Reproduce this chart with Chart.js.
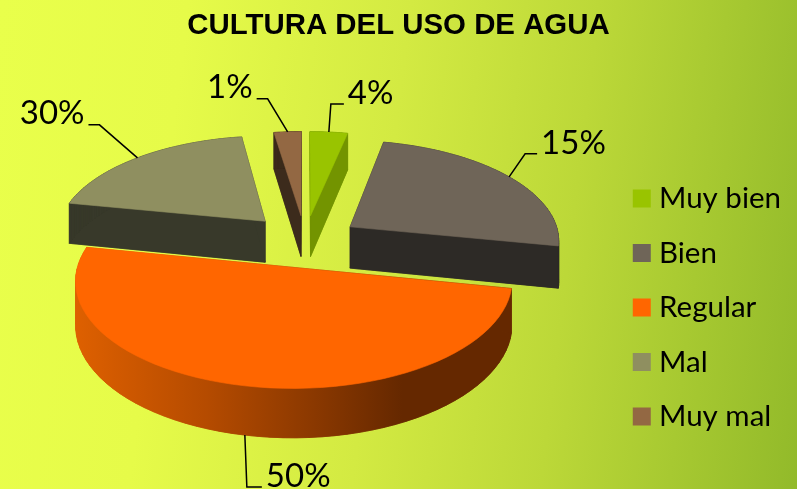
<!DOCTYPE html>
<html>
<head>
<meta charset="utf-8">
<title>Cultura del uso de agua</title>
<script src="https://cdn.jsdelivr.net/npm/chart.js@4"></script>
<style>
  html, body { margin: 0; padding: 0; }
  body {
    width: 797px; height: 489px; overflow: hidden;
    background: linear-gradient(97deg, #e9ff4b 0%, #e6fb49 22%, #d3ea42 48%, #bcd838 70%, #92ba2a 100%);
  }
  canvas { display: block; }
</style>
</head>
<body>
<canvas id="grafico" width="797" height="489"></canvas>
<script>
const categorias = ["Muy bien", "Bien", "Regular", "Mal", "Muy mal"];
// lo que dicen las etiquetas del original
const porcentajes = ["4%", "15%", "50%", "30%", "1%"];
// tamaño de cada porcion tal como esta dibujada: en el original no coincide con las etiquetas
const porciones = [3.3, 24.8, 50, 19.5, 2.4];
const colores = ["#99c400", "#6f6558", "#ff6600", "#8f8f60", "#936843"];
const coloresLado = ["#739400", "#2d2a26", "#652800", "#38392a", "#3c2b1c"];

// separacion de cada porcion
const separaciones = [55, 55, 55, 59, 55];
// linea guia de cada etiqueta, relativa al punto de la porcion: codo x, codo y, largo del tramo final
const guias = [[2, -28, 13], [16, -23, 12], [2, 52, 15], [-38, -33, -11], [-20, -33, -11]];

// vista 3D: centro, aplastamiento, perspectiva y grosor
const vista = { cx: 305, cy: 241, k: 0.475, p: 0.119, grosor: 42 };

function proyectar(x, y, z, R) {
  const w = 1 - vista.p * y / R;
  return { x: vista.cx + x / w, y: vista.cy + (vista.k * y + z) / w };
}

function puntosBorde(arc) {
  const R = arc.outerRadius;
  const medio = (arc.startAngle + arc.endAngle) / 2;
  const ox = Math.cos(medio) * arc.options.offset;
  const oy = Math.sin(medio) * arc.options.offset;
  const pts = [[ox, oy]];
  const pasos = 60;
  for (let i = 0; i <= pasos; i++) {
    const a = arc.startAngle + (arc.endAngle - arc.startAngle) * i / pasos;
    pts.push([ox + Math.cos(a) * R, oy + Math.sin(a) * R]);
  }
  return pts;
}

function poligono(ctx, pts, color) {
  ctx.beginPath();
  pts.forEach((p, i) => (i ? ctx.lineTo(p.x, p.y) : ctx.moveTo(p.x, p.y)));
  ctx.closePath();
  ctx.fillStyle = color;
  ctx.strokeStyle = color;
  ctx.lineWidth = 0.6;
  ctx.fill();
  ctx.stroke();
}

const pastel3d = {
  id: "pastel3d",
  afterLayout(chart) {
    // la leyenda va mas abajo y mas a la izquierda de donde la deja Chart.js
    chart.legend.top += 63;
    chart.legend.bottom += 63;
    chart.legend.left -= 6;
    chart.legend.right -= 6;
  },
  beforeDatasetDraw() {
    return false; // las porciones se dibujan proyectadas
  },
  afterDatasetsDraw(chart) {
    const ctx = chart.ctx;
    const arcos = chart.getDatasetMeta(0).data;
    const orden = arcos.map((a, i) => i).sort((a, b) => {
      const ma = (arcos[a].startAngle + arcos[a].endAngle) / 2;
      const mb = (arcos[b].startAngle + arcos[b].endAngle) / 2;
      return Math.sin(ma) - Math.sin(mb);
    });

    ctx.save();
    orden.forEach((i) => {
      const arc = arcos[i];
      const R = arc.outerRadius;
      const borde = puntosBorde(arc);
      const arriba = borde.map((p) => proyectar(p[0], p[1], 0, R));
      const abajo = borde.map((p) => proyectar(p[0], p[1], vista.grosor, R));

      let lado = coloresLado[i];
      if (categorias[i] === "Regular") {
        const xs = arriba.map((p) => p.x);
        const g = ctx.createLinearGradient(Math.min(...xs), 0, Math.max(...xs), 0);
        g.addColorStop(0, "#de6000");
        g.addColorStop(0.3, "#b54b00");
        g.addColorStop(0.55, "#8a3800");
        g.addColorStop(0.75, "#652800");
        g.addColorStop(1, "#652800");
        lado = g;
      }
      poligono(ctx, abajo, lado);
      for (let j = 0; j < arriba.length; j++) {
        const s = (j + 1) % arriba.length;
        poligono(ctx, [arriba[j], arriba[s], abajo[s], abajo[j]], lado);
      }
      poligono(ctx, arriba, colores[i]);
    });

    // etiquetas con su linea guia
    ctx.font = "33px Lato";
    ctx.textBaseline = "middle";
    arcos.forEach((arc, i) => {
      const R = arc.outerRadius;
      const medio = (arc.startAngle + arc.endAngle) / 2;
      const r = R + arc.options.offset;
      const z = Math.sin(medio) > 0 ? vista.grosor : 0;
      const p = proyectar(Math.cos(medio) * r, Math.sin(medio) * r, z, R);
      const [dx, dy, largo] = guias[i];
      const codo = { x: p.x + dx, y: p.y + dy };
      const fin = { x: codo.x + largo, y: codo.y };
      ctx.beginPath();
      ctx.moveTo(p.x, p.y);
      ctx.lineTo(codo.x, codo.y);
      ctx.lineTo(fin.x, fin.y);
      ctx.strokeStyle = "#000";
      ctx.lineWidth = 1.5;
      ctx.stroke();
      ctx.fillStyle = "#000";
      ctx.textAlign = largo > 0 ? "left" : "right";
      ctx.fillText(porcentajes[i], fin.x + (largo > 0 ? 4 : -4), fin.y - 11);
    });
    ctx.restore();
  },
};

new Chart(document.getElementById("grafico"), {
  type: "pie",
  data: {
    labels: categorias,
    datasets: [
      {
        data: porciones,
        backgroundColor: colores,
        borderWidth: 0,
        offset: separaciones,
        radius: 210,
      },
    ],
  },
  options: {
    responsive: false,
    animation: false,
    plugins: {
      title: {
        display: true,
        text: "CULTURA DEL USO DE AGUA",
        color: "#000",
        font: { family: "Liberation Sans", size: 29.4, weight: "bold" },
        padding: { top: 8, bottom: 8 },
      },
      legend: {
        position: "right",
        labels: {
          color: "#000",
          font: { family: "Lato", size: 29.5 },
          usePointStyle: true,
          pointStyle: "rect",
          boxWidth: 5,
          boxHeight: 18,
          padding: 25,
        },
      },
      tooltip: { enabled: false },
    },
  },
  plugins: [pastel3d],
});
</script>
</body>
</html>
